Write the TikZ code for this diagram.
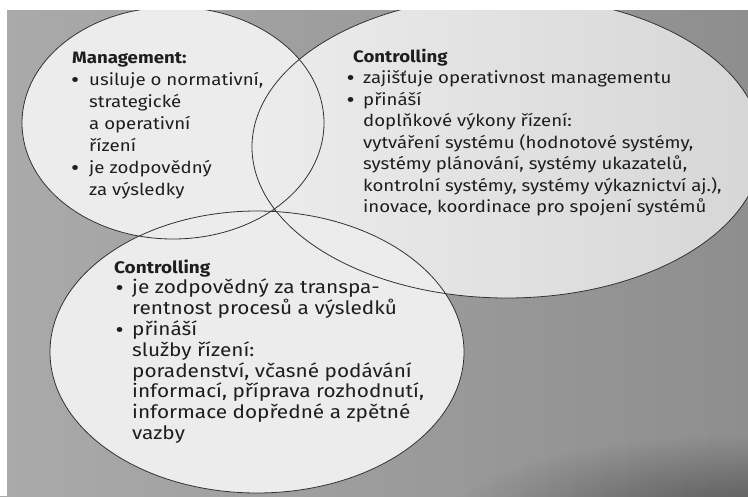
\documentclass[tikz,border=0pt]{standalone}
\usepackage{fontspec}
\setmainfont{Fira Sans}[FakeStretch=1.13]
\usetikzlibrary{fadings}
\definecolor{pagel}{RGB}{170,170,170}
\definecolor{pager}{RGB}{142,142,142}
\definecolor{blobfill}{RGB}{236,236,236}
\definecolor{blobdim}{RGB}{214,214,214}
\definecolor{rimcol}{RGB}{50,50,50}
\definecolor{inkcol}{RGB}{30,30,30}
\tikzfading[name=softspot, inner color=transparent!0, outer color=transparent!100]
% a bullet that hangs to the left of the line, #1 = gap before the text
\newcommand\hangbul[1]{\llap{\raisebox{-2pt}{\fontsize{22}{0}\selectfont\textbullet}\hspace{#1}}}
\begin{document}
\begin{tikzpicture}[x=1pt, y=-1pt,
  blob/.style={fill=blobfill},
  rim/.style={draw=rimcol, line width=0.8pt},
  % multi-line nodes sit on the baseline of their last line
  txt/.style={anchor=base west, align=left, inner sep=0pt, text=inkcol},
  bodyA/.style={font=\fontsize{16.5}{22}\selectfont},
  bodyB/.style={font=\fontsize{16.5}{21.5}\selectfont},
  bodyC/.style={font=\fontsize{18.4}{20.8}\selectfont},
]
% page background
\path[use as bounding box] (0,0) rectangle (748,496);
\fill[white] (0,0) rectangle (748,496);
\shade[left color=pagel, right color=pager] (0,0) rectangle (748,496);
\fill[black, opacity=0.4, path fading=softspot] (748,520) ellipse [x radius=300, y radius=85];

% the three sets
\fill[blob] (173,123) ellipse [x radius=151, y radius=116];
\shade[left color=blobfill, right color=blobdim] (507,147) ellipse [x radius=255, y radius=151];
\fill[blob] (257,352) ellipse [x radius=207, y radius=141];
\draw[rim] (173,123) ellipse [x radius=151, y radius=116];
\draw[rim] (507,147) ellipse [x radius=255, y radius=151];
\draw[rim] (257,352) ellipse [x radius=207, y radius=141];

% page edges
\fill[white] (0,0) rectangle (748,10);
\fill[white] (0,0) rectangle (7,496);

% texts
\node[txt, bodyA] (mgmt) at (72,195) {%
  \textbf{Management:}\\
  \hspace*{17pt}\hangbul{10pt}usiluje o normativní,\\
  \hspace*{17pt}strategické\\
  \hspace*{17pt}a operativní\\
  \hspace*{17pt}řízení\\
  \hspace*{17pt}\hangbul{10pt}je zodpovědný\\
  \hspace*{17pt}za výsledky};

\node[txt, bodyB] (ctrlA) at (353,212.5) {%
  \textbf{Controlling}\\
  \hspace*{10pt}\hangbul{8.5pt}zajišťuje operativnost managementu\\
  \hspace*{10pt}\hangbul{8.5pt}přináší\\
  \hspace*{10pt}doplňkové výkony řízení:\\
  \hspace*{10pt}vytváření systému (hodnotové systémy,\\
  \hspace*{10pt}systémy plánování, systémy ukazatelů,\\
  \hspace*{10pt}kontrolní systémy, systémy výkaznictví aj.),\\
  \hspace*{10pt}inovace, koordinace pro spojení systémů};

\node[txt, bodyC] (ctrlB) at (114,439.4) {%
  {\fontsize{16.8}{20.8}\selectfont\textbf{Controlling}}\\
  \hspace*{18pt}\hangbul{8.5pt}je zodpovědný za transpa-\\
  \hspace*{18pt}rentnost procesů a výsledků\\
  \hspace*{18pt}\hangbul{8.5pt}přináší\\
  \hspace*{18pt}služby řízení:\\
  \hspace*{18pt}poradenství, včasné podávání\\
  \hspace*{18pt}informací, příprava rozhodnutí,\\
  \hspace*{18pt}informace dopředné a zpětné\\
  \hspace*{18pt}vazby};
\end{tikzpicture}
\end{document}
